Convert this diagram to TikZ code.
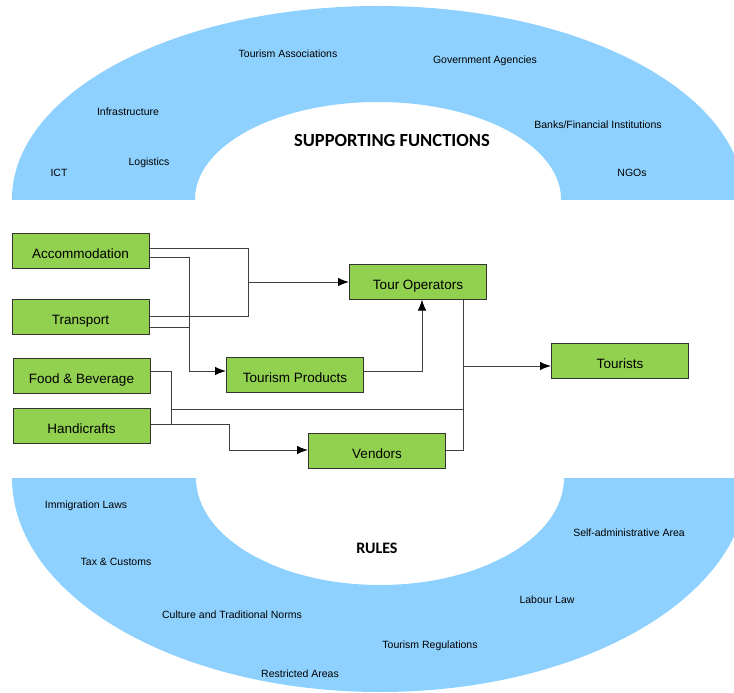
\documentclass[tikz,border=0pt]{standalone}
\usepackage{fontspec}
\setmainfont{Liberation Sans}
\newfontfamily\titlefont{Carlito}
\usetikzlibrary{arrows.meta}
\definecolor{arcblue}{HTML}{8FD1FE}
\definecolor{boxgreen}{HTML}{92D050}
\definecolor{lncol}{HTML}{404040}
\tikzset{
  box/.style={draw=black!80, line width=1pt, fill=boxgreen, minimum width=137pt, minimum height=35pt, inner sep=0pt, text height=15pt, text depth=0pt, font=\fontsize{13.5}{15}\selectfont},
  lbl/.style={inner sep=0pt, font=\fontsize{10.5}{12}\selectfont},
  ttl/.style={inner sep=0pt, font=\titlefont\bfseries\fontsize{18.5}{20}\selectfont},
  ln/.style={draw=lncol, line width=1pt},
  arr/.style={ln, -{Latex[length=11pt,width=8.5pt,color=black]}}
}
\begin{document}
\begin{tikzpicture}[x=1pt,y=-1pt]
\useasboundingbox (0,0) rectangle (734,693);
\clip (0,0) rectangle (734,693);
% supporting functions arc
\begin{scope}
\clip (0,0) rectangle (734,199);
\fill[arcblue, even odd rule] (378,199) ellipse [x radius=366, y radius=193] (378,199) ellipse [x radius=183, y radius=97];
\end{scope}
% rules arc
\begin{scope}
\clip (0,478) rectangle (734,693);
\fill[arcblue, even odd rule] (380,478) ellipse [x radius=368, y radius=214] (380,478) ellipse [x radius=184, y radius=107];
\end{scope}
% top labels
\node[lbl] (t1) at (288,54) {Tourism Associations};
\node[lbl] (t2) at (485,61) {Government Agencies};
\node[lbl] (t3) at (128,112) {Infrastructure};
\node[lbl] (t4) at (598,125) {Banks/Financial Institutions};
\node[ttl] (t5) at (392,141) {SUPPORTING FUNCTIONS};
\node[lbl] (t6) at (149,163) {Logistics};
\node[lbl] (t7) at (59,173) {ICT};
\node[lbl] (t8) at (632,173) {NGOs};
% bottom labels
\node[lbl] (b1) at (86,506) {Immigration Laws};
\node[lbl] (b2) at (629,533) {Self-administrative Area};
\node[ttl, font=\titlefont\bfseries\fontsize{16}{18}\selectfont] (b3) at (377,548) {RULES};
\node[lbl] (b4) at (116,562) {Tax \& Customs};
\node[lbl] (b5) at (547,600) {Labour Law};
\node[lbl] (b6) at (232,615) {Culture and Traditional Norms};
\node[lbl] (b7) at (430,646) {Tourism Regulations};
\node[lbl] (b8) at (300,674) {Restricted Areas};
% boxes
\node[box] (acc) at (80.5,251) {Accommodation};
\node[box] (tra) at (80.5,316.5) {Transport};
\node[box] (fab) at (81.5,375.5) {Food \& Beverage};
\node[box] (han) at (81.5,426) {Handicrafts};
\node[box] (tou) at (418,281.5) {Tour Operators};
\node[box] (tpr) at (295,375) {Tourism Products};
\node[box] (ven) at (377,450.5) {Vendors};
\node[box] (tst) at (620,361) {Tourists};
% junctions
\coordinate (m1) at (248,282);
\coordinate (c2) at (189,371);
\coordinate (c3) at (171,424);
\coordinate (c4) at (229,450);
\coordinate (c5) at (171,409);
\coordinate (c6) at (463,409);
\coordinate (c7) at (463,366);
% connectors
\draw[ln] ([yshift=3pt]acc.east) -| (m1);
\draw[ln] (tra.east) -| (m1);
\draw[arr] (m1) -- (m1 -| tou.west);
\draw[arr] ([yshift=-6pt]acc.east) -| (c2) -- (c2 -| tpr.west);
\draw[ln] ([yshift=-10.5pt]tra.east) -| (c2);
\draw[arr] ([yshift=4pt]tpr.east) -| ([xshift=4pt]tou.south);
\draw[ln] ([yshift=4.5pt]fab.east) -| (c3);
\draw[arr] ([yshift=2pt]han.east) -| (c4) -- (c4 -| ven.west);
\draw[ln] (c5) -- (c6);
\draw[ln] (tou.south -| c7) -- (c7 |- ven.east) -- (ven.east);
\draw[arr] (c7) -- (c7 -| tst.west);
\end{tikzpicture}
\end{document}
